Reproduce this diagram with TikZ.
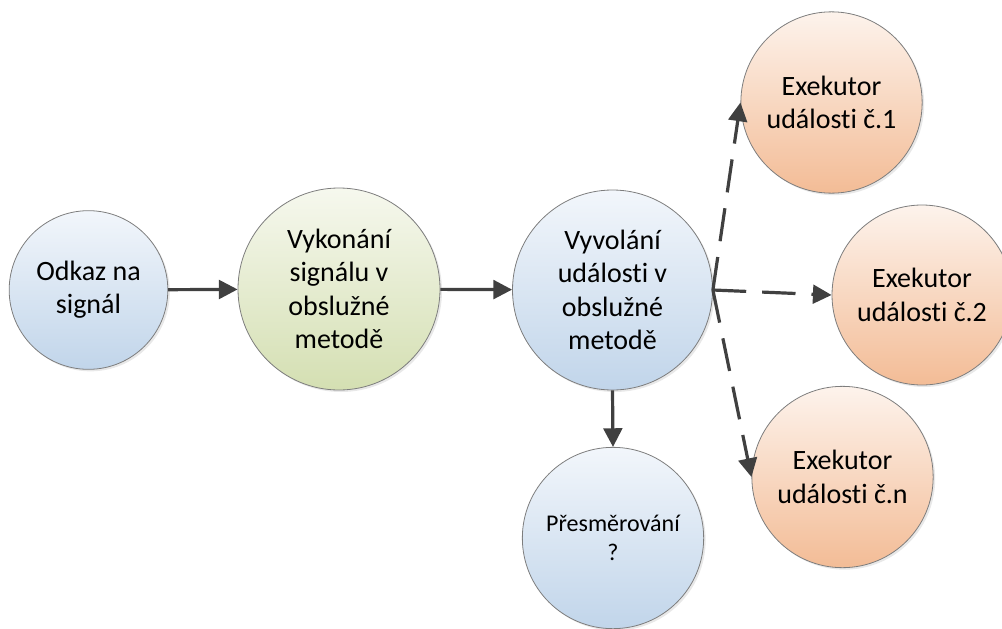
\documentclass[tikz,border=0pt]{standalone}
\usepackage{fontspec}
\setmainfont[Ligatures=NoCommon]{Carlito}
\usetikzlibrary{arrows.meta,shadows}

\begin{document}
\begin{tikzpicture}[x=0.75pt,y=0.75pt,yscale=-1,xscale=1,
  krok/.style={circle,draw={rgb, 255:red, 125; green, 125; blue, 125},line width=0.6pt,
    align=center,inner sep=0pt,font=\fontsize{21}{25}\selectfont,
    drop shadow={opacity=0.18,shadow xshift=1.5pt,shadow yshift=-1.5pt}},
  modry/.style={krok,top color={rgb, 255:red, 242; green, 246; blue, 251},bottom color={rgb, 255:red, 193; green, 213; blue, 234}},
  zeleny/.style={krok,top color={rgb, 255:red, 246; green, 248; blue, 238},bottom color={rgb, 255:red, 212; green, 223; blue, 178}},
  oranzovy/.style={krok,top color={rgb, 255:red, 253; green, 243; blue, 236},bottom color={rgb, 255:red, 243; green, 188; blue, 150}},
  sipka/.style={draw={rgb, 255:red, 64; green, 64; blue, 64},line width=2.4pt,-{Triangle[length=14pt,width=14pt]}},
  carkovana/.style={sipka,dash pattern=on 25pt off 12pt}]
%set diagram: 1002 x 628
\useasboundingbox (0,0) rectangle (1002,628);

%Shape: Circle [Odkaz]
\node [modry,minimum size=119pt] (odkaz) at (88.5,290) {Odkaz na\\signál};
%Shape: Circle [Vykonani]
\node [zeleny,minimum size=151.5pt] (vykonani) at (339,289) {Vykonání\\signálu v\\obslužné\\metodě};
%Shape: Circle [Vyvolani]
\node [modry,minimum size=150pt] (vyvolani) at (612.5,290) {Vyvolání\\události v\\obslužné\\metodě};
%Shape: Circle [Presmerovani]
\node [modry,minimum size=136pt,font=\fontsize{18}{22}\selectfont] (presm) at (613,538) {Přesměrování\\?};
%Shape: Circle [Exekutor 1]
\node [oranzovy,minimum size=136pt] (exek1) at (831.5,102.5) {Exekutor\\události č.1};
%Shape: Circle [Exekutor 2]
\node [oranzovy,minimum size=135pt] (exek2) at (922,295) {Exekutor\\události č.2};
%Shape: Circle [Exekutor n]
\node [oranzovy,minimum size=136pt] (exekn) at (842.5,477) {Exekutor\\události č.n};

%Straight Lines
\draw [sipka] (odkaz) -- (vykonani);
\draw [sipka] (vykonani) -- (vyvolani);
\draw [sipka] (vyvolani.south) -- (presm.north);
%Dashed Lines
\draw [carkovana] (vyvolani.east) -- (exek1.west);
\draw [carkovana] (vyvolani.east) -- (exek2.west);
\draw [carkovana] (vyvolani.east) -- (exekn.west);

\end{tikzpicture}
\end{document}
